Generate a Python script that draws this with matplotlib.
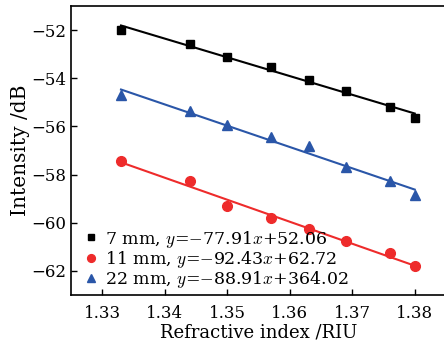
import numpy as np
import matplotlib
matplotlib.use('Agg')
import matplotlib.pyplot as plt

plt.rcParams['font.family'] = ['DejaVu Serif']
plt.rcParams['mathtext.fontset'] = 'cm'

refractive_index = [1.333, 1.344, 1.350, 1.357, 1.363, 1.369, 1.376, 1.380]
intensity_7mm = [-52.00, -52.57, -53.12, -53.53, -54.07, -54.54, -55.18, -55.64]
intensity_11mm = [-57.44, -58.28, -59.29, -59.81, -60.27, -60.77, -61.26, -61.81]
intensity_22mm = [-54.69, -55.38, -55.95, -56.45, -56.83, -57.69, -58.28, -58.86]

labels = ['7 mm, $y$=$-$77.91$x$+52.06',
          '11 mm, $y$=$-$92.43$x$+62.72',
          '22 mm, $y$=$-$88.91$x$+364.02']
colors = ['black', '#ee2b2b', '#2a56a8']
markers = ['s', 'o', '^']
sizes = [6, 7, 7.5]

fig = plt.figure(figsize=(4.44, 3.51), dpi=100)
ax = fig.add_axes([71 / 444, 56 / 351, 375 / 444, 289 / 351])

x = np.array(refractive_index)
for ys, c, m, s, lab in zip([intensity_7mm, intensity_11mm, intensity_22mm],
                            colors, markers, sizes, labels):
    k, b = np.polyfit(x, ys, 1)
    ax.plot(x, k * x + b, color=c, lw=1.5)
    ax.plot(x, ys, linestyle='none', marker=m, ms=s, color=c, label=lab)

ax.set_xlim(1.325, 1.385)
ax.set_ylim(-63, -51)
ax.set_xticks([1.33, 1.34, 1.35, 1.36, 1.37, 1.38])
ax.set_yticks([-52, -54, -56, -58, -60, -62])
ax.tick_params(direction='in', length=4, labelsize=12, width=1)
ax.tick_params(axis='x', pad=7)
for sp in ax.spines.values():
    sp.set_linewidth(1.2)
ax.set_xlabel('Refractive index /RIU', fontsize=13, labelpad=1)
ax.set_ylabel('Intensity /dB', fontsize=14.5, labelpad=1)

ax.legend(loc='lower left', frameon=False, fontsize=12.5, handlelength=0.8,
          handletextpad=0.4, labelspacing=-0.05, borderaxespad=0.0,
          markerscale=0.8, borderpad=0.3, bbox_to_anchor=(0.02, 0.0))

fig.savefig('out.png', dpi=100)
